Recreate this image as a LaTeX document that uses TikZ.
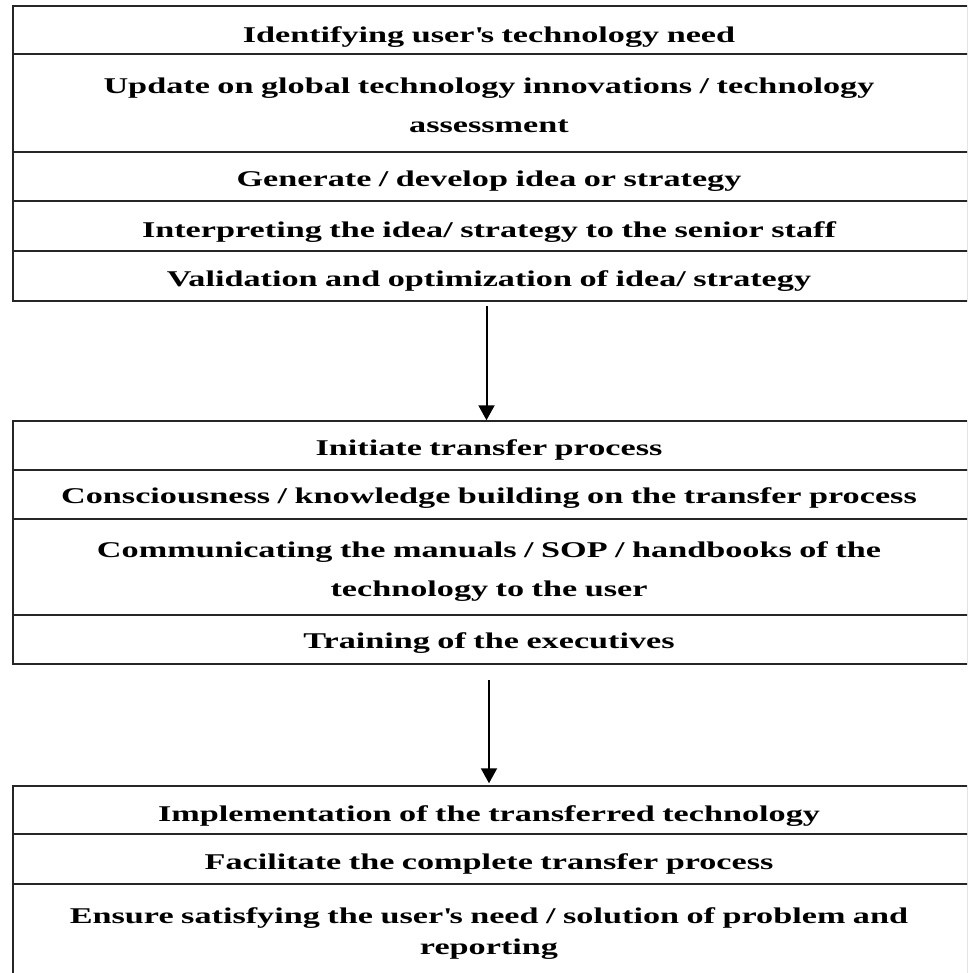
\documentclass[tikz,border=0pt]{standalone}
\usepackage{fontspec}
\setmainfont[FakeStretch=1.52]{Liberation Serif}
\usetikzlibrary{arrows.meta}
\tikzset{
  cell/.style={draw=black!85, line width=1.5pt, rectangle, inner sep=0pt, minimum width=955pt},
  txt/.style={font=\fontsize{22.5}{39}\selectfont\bfseries, text width=950pt, align=center, anchor=base, inner sep=0pt},
  arr/.style={line width=2pt, -{Triangle[width=16pt,length=15pt]}}
}
\begin{document}
\begin{tikzpicture}[x=1pt,y=-1pt]
\useasboundingbox (0,0) rectangle (967,973);
\clip (0,0) rectangle (967,973);
\fill[white] (0,0) rectangle (967,973);
% box 1
\node[cell, minimum height=48pt] (a1) at (490.5,30) {};
\node[cell, minimum height=98pt] (a2) at (490.5,103) {};
\node[cell, minimum height=49pt] (a3) at (490.5,176.5) {};
\node[cell, minimum height=50pt] (a4) at (490.5,226) {};
\node[cell, minimum height=50pt] (a5) at (490.5,276) {};
\node[txt] (t1) at (489,43) {Identifying user\textquotesingle s technology need};
\node[txt] (t2) at (489,94) {Update on global technology innovations / technology\\ assessment};
\node[txt] (t3) at (489,187) {Generate / develop idea or strategy};
\node[txt] (t4) at (489,238) {Interpreting the idea/ strategy to the senior staff};
\node[txt] (t5) at (489,287) {Validation and optimization of idea/ strategy};
% box 2
\node[cell, minimum height=49pt] (b1) at (490.5,445.5) {};
\node[cell, minimum height=49pt] (b2) at (490.5,494.5) {};
\node[cell, minimum height=96pt] (b3) at (490.5,567) {};
\node[cell, minimum height=49pt] (b4) at (490.5,639.5) {};
\node[txt] (t6) at (489,455) {Initiate transfer process};
\node[txt] (t7) at (489,503) {Consciousness / knowledge building on the transfer process};
\node[txt] (t8) at (489,557) {Communicating the manuals / SOP / handbooks of the\\ technology to the user};
\node[txt] (t9) at (489,648) {Training of the executives};
% box 3
\node[cell, minimum height=48pt] (c1) at (490.5,810) {};
\node[cell, minimum height=50pt] (c2) at (490.5,859) {};
\node[cell, minimum height=116pt] (c3) at (490.5,942) {};
\node[txt] (t10) at (489,821) {Implementation of the transferred technology};
\node[txt] (t11) at (489,869) {Facilitate the complete transfer process};
\node[txt, font=\fontsize{22.5}{31}\selectfont\bfseries] (t12) at (489,923) {Ensure satisfying the user\textquotesingle s need / solution of problem and\\ reporting};
% arrows
\draw[arr] ([xshift=-4pt,yshift=-4pt]a5.south) -- ([xshift=-4pt]b1.north);
\draw[arr] ([xshift=-1.5pt,yshift=-15pt]b4.south) -- ([xshift=-1.5pt,yshift=2pt]c1.north);
\end{tikzpicture}
\end{document}
